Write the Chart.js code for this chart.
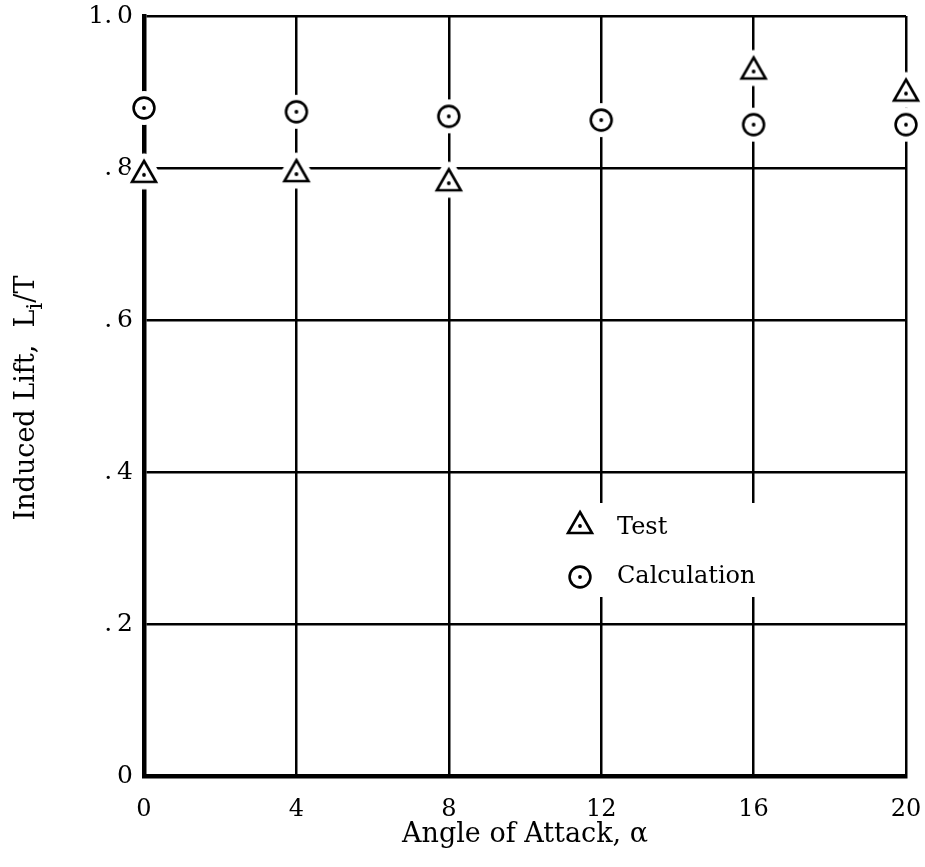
<!DOCTYPE html>
<html><head><meta charset="utf-8">
<script src="https://cdn.jsdelivr.net/npm/chart.js@4"></script>
<style>html,body{margin:0;padding:0;background:#fff;} canvas{display:block;}</style>
</head><body>
<canvas id="c" width="925" height="867"></canvas>
<script>
const calcAngles = [0, 4, 8, 12, 16, 20];
const calcValues = [0.879, 0.874, 0.868, 0.863, 0.857, 0.857];
const testAngles = [0, 4, 8, 16, 20];
const testValues = [0.791, 0.792, 0.780, 0.927, 0.898];
const xTickValues = [0, 4, 8, 12, 16, 20];
const xTickLabels = ['0', '4', '8', '12', '16', '20'];
const yTickValues = [0, 0.2, 0.4, 0.6, 0.8, 1.0];
const yTickLabels = ['0', '.\u20092', '.\u20094', '.\u20096', '.\u20098', '1.\u20090'];
const seriesNames = ['Test', 'Calculation'];
const xTitle = 'Angle of Attack, \u03B1';
const yTitleParts = ['Induced Lift,  L', 'i', '/T'];

const FONT = "'DejaVu Serif', 'Liberation Serif', serif";

function makeMarker(kind, halo) {
  const S = 50, c = S / 2;
  const cv = document.createElement('canvas');
  cv.width = S; cv.height = S;
  const g = cv.getContext('2d');
  if (kind === 'circle') {
    if (halo) { g.fillStyle = '#fff'; g.beginPath(); g.arc(c, c, 17, 0, 2 * Math.PI); g.fill(); }
    g.strokeStyle = '#000'; g.lineWidth = 2.6;
    g.beginPath(); g.arc(c, c, 10.4, 0, 2 * Math.PI); g.stroke();
  } else {
    const h = 21, hw = 12;
    const path = () => { g.beginPath(); g.moveTo(c, c - 2 * h / 3); g.lineTo(c + hw, c + h / 3); g.lineTo(c - hw, c + h / 3); g.closePath(); };
    if (halo) { g.lineJoin = 'round'; g.fillStyle = '#fff'; g.strokeStyle = '#fff'; g.lineWidth = 15; path(); g.fill(); g.stroke(); }
    g.lineJoin = 'miter'; g.strokeStyle = '#000'; g.lineWidth = 2.6; path(); g.stroke();
  }
  g.fillStyle = '#000'; g.beginPath(); g.arc(c, c, 1.9, 0, 2 * Math.PI); g.fill();
  return cv;
}

const triHalo = makeMarker('tri', true);
const cirHalo = makeMarker('circle', true);
const triPlain = makeMarker('tri', false);
const cirPlain = makeMarker('circle', false);

const inlineLegend = {
  id: 'inlineLegend',
  afterDatasetsDraw(chart) {
    const ctx = chart.ctx, a = chart.chartArea;
    const x0 = a.left + 416, y0 = a.top + 487;
    ctx.save();
    ctx.fillStyle = '#fff';
    ctx.fillRect(x0, y0, 240, 94);
    const mx = a.left + 436;
    const rows = [[triPlain, a.top + 510, a.top + 518], [cirPlain, a.top + 561, a.top + 567]];
    ctx.fillStyle = '#000';
    ctx.font = '24px ' + FONT;
    ctx.textBaseline = 'alphabetic';
    ctx.textAlign = 'left';
    rows.forEach((r, i) => {
      ctx.drawImage(r[0], mx - r[0].width / 2, r[1] - r[0].height / 2);
      ctx.fillText(seriesNames[i], a.left + 473, r[2]);
    });
    ctx.restore();
  }
};

const yTitlePlugin = {
  id: 'yTitle',
  afterDraw(chart) {
    const ctx = chart.ctx, a = chart.chartArea;
    const big = '27px ' + FONT, small = '22px ' + FONT;
    ctx.save();
    ctx.fillStyle = '#000';
    ctx.textBaseline = 'alphabetic';
    ctx.textAlign = 'left';
    ctx.font = big; const w0 = ctx.measureText(yTitleParts[0]).width; const w2 = ctx.measureText(yTitleParts[2]).width;
    ctx.font = small; const w1 = ctx.measureText(yTitleParts[1]).width;
    const total = w0 + w1 + w2;
    ctx.translate(34, (a.top + a.bottom) / 2 + 2);
    ctx.rotate(-Math.PI / 2);
    let x = -total / 2;
    ctx.font = big; ctx.fillText(yTitleParts[0], x, 0); x += w0;
    ctx.font = small; ctx.fillText(yTitleParts[1], x, 8); x += w1;
    ctx.font = big; ctx.fillText(yTitleParts[2], x, 0);
    ctx.restore();
  }
};

new Chart(document.getElementById('c'), {
  type: 'scatter',
  data: {
    datasets: [
      { label: seriesNames[0], data: testAngles.map((x, i) => ({ x, y: testValues[i] })),
        pointStyle: triHalo, pointRadius: 12, showLine: false, clip: false },
      { label: seriesNames[1], data: calcAngles.map((x, i) => ({ x, y: calcValues[i] })),
        pointStyle: cirHalo, pointRadius: 12, showLine: false, clip: false }
    ]
  },
  options: {
    responsive: false,
    animation: false,
    events: [],
    layout: { padding: { left: 0, right: 19, top: 16, bottom: 0 } },
    plugins: { legend: { display: false }, tooltip: { enabled: false } },
    scales: {
      x: {
        type: 'linear', min: 0, max: 20,
        afterBuildTicks(s) { s.ticks = xTickValues.map(v => ({ value: v })); },
        afterFit(s) { s.height = 91; s.paddingLeft = 0; s.paddingRight = 0; },
        ticks: { callback: (v, i) => xTickLabels[i], font: { family: FONT, size: 24 }, color: '#000', padding: 19, maxRotation: 0, autoSkip: false },
        grid: { color: '#000', lineWidth: 2.5, drawTicks: false },
        border: { color: '#000', width: 4.5 },
        title: { display: true, text: xTitle, font: { family: FONT, size: 27 }, color: '#000', padding: { top: 0, bottom: 16 } }
      },
      y: {
        type: 'linear', min: 0, max: 1,
        afterBuildTicks(s) { s.ticks = yTickValues.map(v => ({ value: v })); },
        afterFit(s) { s.width = 144; s.paddingTop = 0; s.paddingBottom = 0; },
        ticks: { callback: (v, i) => yTickLabels[i], font: { family: FONT, size: 25 }, color: '#000', padding: 11, autoSkip: false },
        grid: { color: '#000', lineWidth: 2.5, drawTicks: false },
        border: { color: '#000', width: 4.5 },
        title: { display: false }
      }
    }
  },
  plugins: [inlineLegend, yTitlePlugin]
});
</script>
</body></html>
